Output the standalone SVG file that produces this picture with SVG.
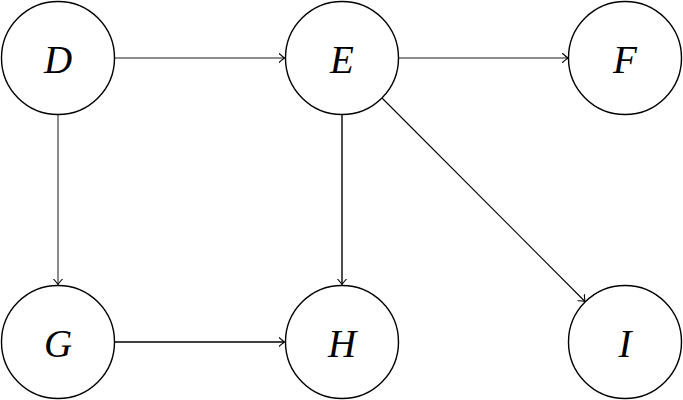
<svg xmlns="http://www.w3.org/2000/svg" width="683" height="400" viewBox="0 0 683 400">
<style>
.node circle{fill:#fff;stroke:#000;stroke-width:1.4}
.node text{font-family:"Liberation Serif","DejaVu Serif",serif;font-style:italic;font-size:39px;text-anchor:middle;dominant-baseline:central;fill:#000}
.edge{fill:none;stroke:#000;marker-end:url(#arr)}
</style>
<defs>
<marker id="arr" viewBox="-6 -5 8 10" refX="0" refY="0" markerWidth="8" markerHeight="10" markerUnits="userSpaceOnUse" orient="auto">
<path d="M-5.5,-4.5 Q-1.5,-1 0,0 Q-1.5,1 -5.5,4.5" fill="none" stroke="#000" stroke-width="1.1" stroke-linecap="round"/>
</marker>
</defs>
<rect width="683" height="400" fill="#fff"/>
<g id="connectors">
<line class="edge" x1="115" y1="58" x2="284.5" y2="58" stroke-width="0.9"/>
<line class="edge" x1="399" y1="58" x2="568" y2="58" stroke-width="0.9"/>
<line class="edge" x1="58" y1="115" x2="58" y2="284.5" stroke-width="0.9"/>
<line class="edge" x1="342" y1="115" x2="342" y2="284.5" stroke-width="1.4"/>
<line class="edge" x1="115" y1="342" x2="284.5" y2="342" stroke-width="1.4"/>
<line class="edge" x1="382" y1="98" x2="585" y2="301.5" stroke-width="1.1"/>
</g>
<g id="D" class="node"><circle cx="58" cy="58" r="56.5"/><text x="58" y="59">D</text></g>
<g id="E" class="node"><circle cx="342" cy="58" r="56.5"/><text x="342" y="59">E</text></g>
<g id="F" class="node"><circle cx="625" cy="58" r="56.5"/><text x="625" y="59">F</text></g>
<g id="G" class="node"><circle cx="58" cy="342" r="56.5"/><text x="58" y="343">G</text></g>
<g id="H" class="node"><circle cx="342" cy="342" r="56.5"/><text x="342" y="343">H</text></g>
<g id="I" class="node"><circle cx="625" cy="342" r="56.5"/><text x="625" y="343">I</text></g>
</svg>
